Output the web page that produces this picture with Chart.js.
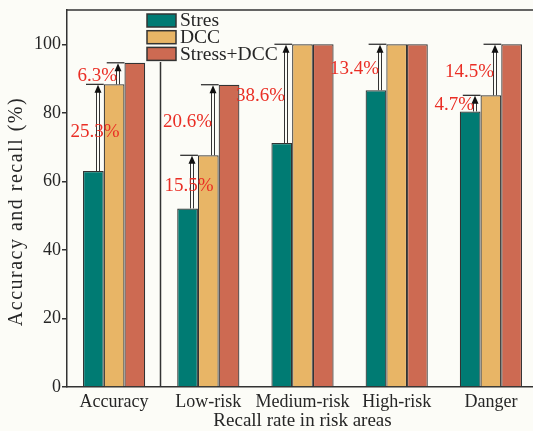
<!DOCTYPE html>
<html>
<head>
<meta charset="utf-8">
<script src="https://cdn.jsdelivr.net/npm/chart.js@4.4.1/dist/chart.umd.min.js"></script>
<style>
  html, body { margin: 0; padding: 0; background: #fcfcf7; overflow: hidden; }
  #wrap { width: 545px; height: 431px; position: relative; }
</style>
</head>
<body>
<div id="wrap"><canvas id="chart"></canvas></div>
<script>
// Categories and series
const categories = ['Accuracy', 'Low-risk', 'Medium-risk', 'High-risk', 'Danger'];
const seriesNames = ['Stres', 'DCC', 'Stress+DCC'];
const stresValues = [63.0, 52.1, 71.2, 86.6, 80.4];
const dccValues = [88.3, 67.6, 100, 100, 85.1];
const comboValues = [94.6, 88.2, 100, 100, 100];
const yTickValues = [0, 20, 40, 60, 80, 100];

// Gain arrows: category index, lower series, upper series, printed gain (%)
const gainCategory = [0, 0, 1, 1, 2, 3, 4, 4];
const gainFrom = [0, 1, 0, 1, 0, 0, 0, 1];
const gainTo = [1, 2, 1, 2, 1, 1, 1, 2];
const gainValues = [25.3, 6.3, 15.5, 20.6, 38.6, 13.4, 4.7, 14.5];
const gainPlacement = ['over', 'left', 'over', 'left', 'left', 'left', 'left', 'left'];

const INK = '#333333';
const TEXT = '#262626';
const RED = '#ea2e25';
const BAR_COLORS = ['#007b73', '#e8b566', '#cd6a52'];
const SERIF = '"Liberation Serif", "Times New Roman", serif';

const frame = {
  id: 'frame',
  afterDatasetsDraw(chart) {
    const { ctx, chartArea: a, scales } = chart;
    ctx.save();

    // top border of the plot box
    ctx.strokeStyle = INK;
    ctx.lineWidth = 1.5;
    ctx.beginPath();
    ctx.moveTo(a.left, a.top);
    ctx.lineTo(a.right, a.top);
    ctx.stroke();

    // legend
    const lx = a.left + 80, ly = a.top + 4, step = 16.7, sw = 29, sh = 13;
    ctx.font = '19.5px ' + SERIF;
    ctx.textBaseline = 'middle';
    ctx.textAlign = 'left';
    chart.data.datasets.forEach((ds, i) => {
      const y = ly + i * step;
      ctx.fillStyle = ds.backgroundColor;
      ctx.fillRect(lx, y, sw, sh);
      ctx.lineWidth = 1.5;
      ctx.strokeStyle = INK;
      ctx.strokeRect(lx, y, sw, sh);
      ctx.fillStyle = TEXT;
      ctx.fillText(ds.label, lx + sw + 4, y + sh / 2 + 0.5);
    });

    // divider between the accuracy group and the recall groups
    const dx = Math.round((scales.x.getPixelForValue(0) + scales.x.getPixelForValue(1)) / 2) - 0.5;
    ctx.lineWidth = 1.5;
    ctx.strokeStyle = INK;
    ctx.beginPath();
    ctx.moveTo(dx, ly + 2 * step + sh + 1.5);
    ctx.lineTo(dx, a.bottom);
    ctx.stroke();

    // gain arrows
    gainCategory.forEach((c, k) => {
      const lower = chart.getDatasetMeta(gainFrom[k]).data[c];
      const upper = chart.getDatasetMeta(gainTo[k]).data[c];
      const left = lower.x - lower.width / 2;
      const upperLeft = upper.x - upper.width / 2;
      const yLow = lower.y, yHigh = upper.y;
      const ax = Math.round(lower.x + lower.width / 2 - 6);

      ctx.strokeStyle = INK;
      ctx.lineWidth = 1.3;
      ctx.beginPath();
      ctx.moveTo(left + 3, yHigh);
      ctx.lineTo(upperLeft, yHigh);
      ctx.stroke();

      ctx.lineWidth = 1;
      ctx.beginPath();
      ctx.moveTo(ax - 1.5, yLow);
      ctx.lineTo(ax - 1.5, yHigh + 6);
      ctx.moveTo(ax + 1.5, yLow);
      ctx.lineTo(ax + 1.5, yHigh + 6);
      ctx.stroke();

      ctx.fillStyle = '#111';
      ctx.beginPath();
      ctx.moveTo(ax, yHigh + 0.5);
      ctx.lineTo(ax - 3.5, yHigh + 8.5);
      ctx.lineTo(ax + 3.5, yHigh + 8.5);
      ctx.closePath();
      ctx.fill();

      const text = gainValues[k].toFixed(1) + '%';
      const my = (yLow + yHigh) / 2 + 2;
      ctx.font = '19px ' + SERIF;
      ctx.fillStyle = RED;
      ctx.textBaseline = 'middle';
      if (gainPlacement[k] === 'over') {
        ctx.textAlign = 'center';
        ctx.fillText(text, ax - 3, my + 2);
      } else {
        ctx.textAlign = 'right';
        ctx.fillText(text, ax - 1, my);
      }
    });

    // y axis title
    ctx.save();
    ctx.translate(16.7, (a.top + a.bottom) / 2 + 13);
    ctx.rotate(-Math.PI / 2);
    ctx.font = '20px ' + SERIF;
    if ('letterSpacing' in ctx) ctx.letterSpacing = '1.5px';
    ctx.fillStyle = TEXT;
    ctx.textAlign = 'center';
    ctx.textBaseline = 'middle';
    ctx.fillText('Accuracy and recall (%)', 0, 0);
    ctx.restore();

    ctx.restore();
  }
};

const background = {
  id: 'background',
  beforeDraw(chart) {
    const { ctx, width, height } = chart;
    ctx.save();
    ctx.fillStyle = '#fcfcf7';
    ctx.fillRect(0, 0, width, height);
    ctx.restore();
  }
};

new Chart(document.getElementById('chart'), {
  type: 'bar',
  data: {
    labels: categories,
    datasets: [stresValues, dccValues, comboValues].map((vals, i) => ({
      label: seriesNames[i],
      data: vals,
      backgroundColor: BAR_COLORS[i],
      borderColor: INK,
      borderWidth: 1.2,
      borderSkipped: 'bottom',
      categoryPercentage: 0.66,
      barPercentage: 1.0
    }))
  },
  options: {
    responsive: true,
    maintainAspectRatio: false,
    animation: false,
    devicePixelRatio: 1,
    layout: { padding: { top: 10, right: 7, left: 0, bottom: 0 } },
    plugins: {
      legend: { display: false },
      tooltip: { enabled: false }
    },
    scales: {
      x: {
        grid: { display: false, drawTicks: false },
        border: { display: true, color: INK, width: 1.5 },
        ticks: {
          color: TEXT,
          font: { family: SERIF, size: 18 },
          padding: 4,
          autoSkip: false,
          maxRotation: 0
        },
        title: {
          display: true,
          text: 'Recall rate in risk areas',
          color: TEXT,
          font: { family: SERIF, size: 19, lineHeight: 1 },
          padding: { top: 0, bottom: 0 }
        },
        afterFit(s) { s.height = 44; s.paddingLeft = 0; s.paddingRight = 0; }
      },
      y: {
        min: 0,
        max: 110,
        grid: { display: true, drawOnChartArea: false, drawTicks: true, tickLength: 5, color: INK, lineWidth: 1.5 },
        border: { display: true, color: INK, width: 1.5 },
        ticks: {
          color: TEXT,
          font: { family: SERIF, size: 18 },
          padding: 1
        },
        afterBuildTicks(s) { s.ticks = yTickValues.map(v => ({ value: v })); },
        afterFit(s) { s.width = 67; s.paddingTop = 0; s.paddingBottom = 0; }
      }
    }
  },
  plugins: [background, frame]
});
</script>
</body>
</html>
